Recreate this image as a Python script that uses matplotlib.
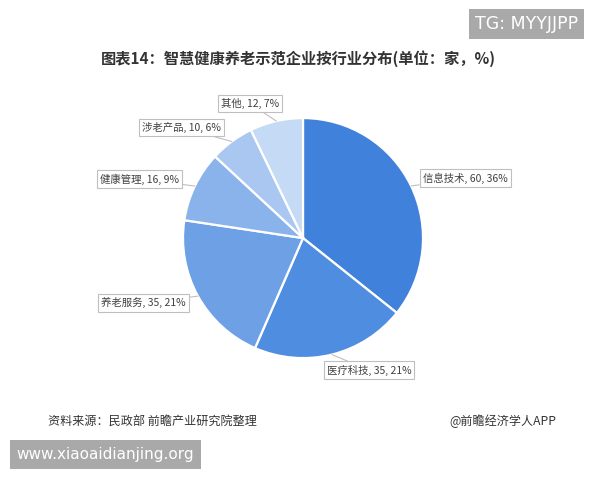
import numpy as np
import matplotlib.pyplot as plt

plt.rcParams['font.family'] = ['Noto Sans CJK SC', 'DejaVu Sans']

# data
sectors = ['信息技术', '医疗科技', '养老服务', '健康管理', '涉老产品', '其他']
counts = [60, 35, 35, 16, 10, 12]
shares = [36, 21, 21, 9, 6, 7]
colors = ['#4081DC', '#4F8DE0', '#6EA0E6', '#8AB3EB', '#A9C7F0', '#C5DAF5']

# where each label box sits (axes data units, pie radius = 1)
label_pos = [(1.35, 0.50), (0.55, -1.10), (-1.33, -0.54),
             (-1.36, 0.49), (-1.01, 0.92), (-0.44, 1.12)]

fig = plt.figure(figsize=(6, 4.8), dpi=100)
fig.patch.set_facecolor('white')

ax = fig.add_axes([0.305, 0.254, 0.4, 0.5])
wedges, _ = ax.pie(counts, colors=colors, startangle=90, counterclock=False,
                   radius=1, wedgeprops=dict(edgecolor='white', linewidth=1.6))
ax.set_xlim(-1, 1)
ax.set_ylim(-1, 1)
ax.set_aspect('equal')
ax.axis('off')

for w, name, n, s, (tx, ty) in zip(wedges, sectors, counts, shares, label_pos):
    ang = np.deg2rad((w.theta1 + w.theta2) / 2)
    x, y = np.cos(ang), np.sin(ang)
    ax.annotate(f'{name}, {n}, {s}%', xy=(x, y), xytext=(tx, ty),
                ha='center', va='center', fontsize=7.5, color='#404040',
                annotation_clip=False,
                bbox=dict(boxstyle='square,pad=0.3', fc='white', ec='#BFBFBF', lw=0.8),
                arrowprops=dict(arrowstyle='-', color='#BFBFBF', lw=0.8,
                                shrinkA=0, shrinkB=0))

fig.text(0.498, 0.878, '图表14：智慧健康养老示范企业按行业分布(单位：家，%)',
         ha='center', va='center', fontsize=11, fontweight='bold', color='#333333')

fig.text(0.08, 0.123, '资料来源：民政部 前瞻产业研究院整理', ha='left', va='center',
         fontsize=8.7, color='#333333')
fig.text(0.927, 0.123, '@前瞻经济学人APP', ha='right', va='center',
         fontsize=8.7, color='#333333')

# overlay tags
fig.text(0.877, 0.95, 'TG: MYYJJPP', ha='center', va='center', fontsize=12.5,
         color='white', family='DejaVu Sans',
         bbox=dict(boxstyle='square,pad=0.35', fc='#A9A9A9', ec='none'))
fig.text(0.176, 0.053, 'www.xiaoaidianjing.org', ha='center', va='center', fontsize=11,
         color='white', family='DejaVu Sans',
         bbox=dict(boxstyle='square,pad=0.45', fc='#A9A9A9', ec='none'))

fig.savefig('out.png', dpi=100, facecolor='white')
